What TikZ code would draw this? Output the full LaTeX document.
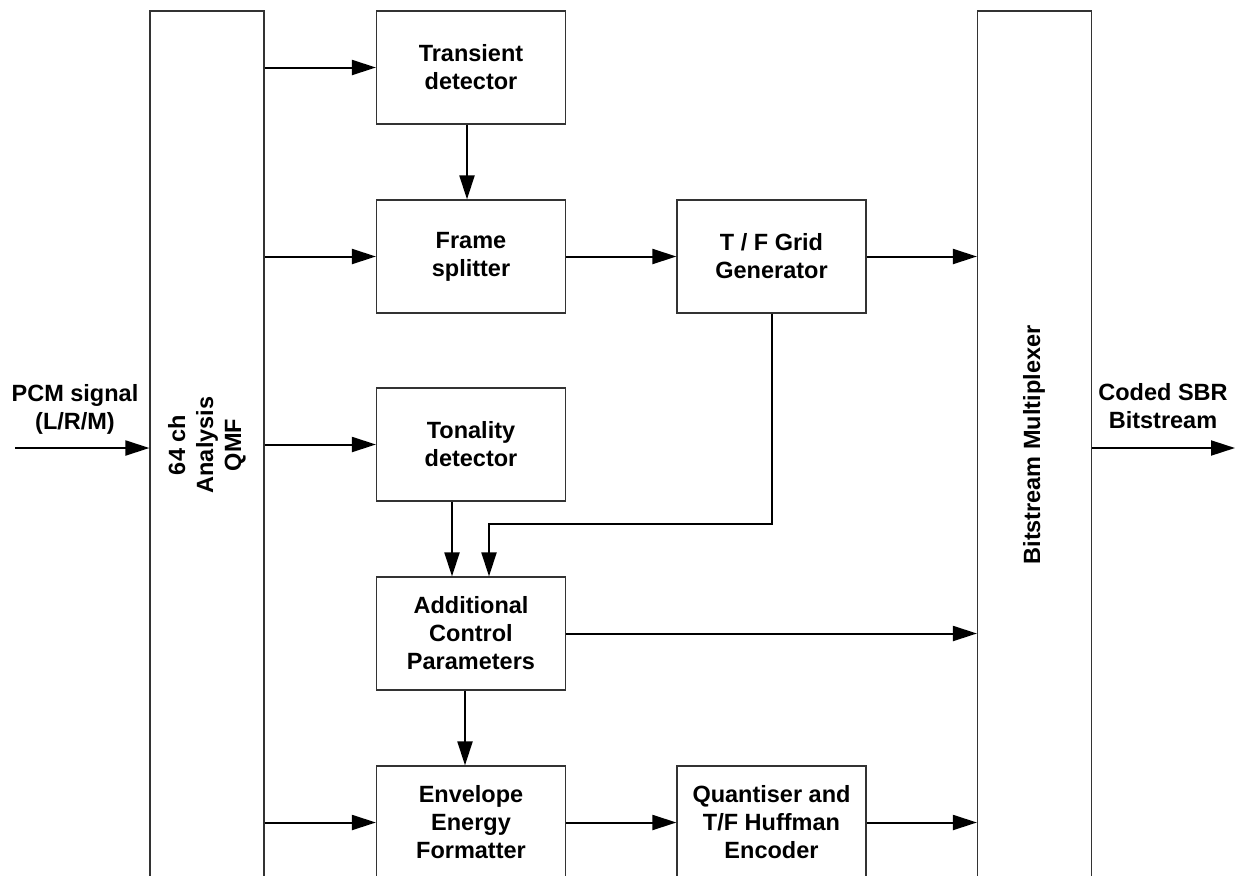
\documentclass[tikz,border=0pt]{standalone}
\usepackage{fontspec}
\setmainfont{Liberation Sans}
\usetikzlibrary{arrows.meta}
\begin{document}
\begin{tikzpicture}[x=1pt,y=-1pt,
  txt/.style={font=\fontsize{23.5}{28}\selectfont\bfseries},
  blk/.style={txt, draw=black!80, line width=1.2pt, minimum width=189pt, minimum height=113pt, inner sep=0pt, align=center},
  tall/.style={draw=black!80, line width=1.2pt, minimum width=114pt, minimum height=868pt, inner sep=0pt},
  lbl/.style={txt, align=center, inner sep=0pt},
  arr/.style={line width=2pt, line join=miter, -{Triangle[length=24pt,width=15pt]}}]
\useasboundingbox (0,0) rectangle (1235,876);
\fill[white] (0,0) rectangle (1235,876);
\clip (0,0) rectangle (1235,876);

% tall blocks
\node[tall] (qmf) at (207,445) {};
\node[lbl, rotate=90] (qmft) at (207,445) {64 ch\\Analysis\\QMF};
\node[tall] (mux) at (1034.5,445) {};
\node[lbl, rotate=90] (muxt) at (1034,445) {Bitstream Multiplexer};

% blocks
\node[blk] (trans) at (471,67.5) {Transient\\detector};
\node[blk] (frame) at (471,256.5) {Frame\\splitter};
\node[blk] (tf) at (771.5,256.5) {T / F Grid\\Generator};
\node[blk] (ton) at (471,444.5) {Tonality\\detector};
\node[blk] (acp) at (471,633.5) {Additional\\Control\\Parameters};
\node[blk] (env) at (471,822.5) {Envelope\\Energy\\Formatter};
\node[blk] (quant) at (771.5,822.5) {Quantiser and\\T/F Huffman\\Encoder};

% external labels
\node[lbl] (pcm) at (75,409) {PCM signal\\(L/R/M)};
\node[lbl] (sbr) at (1163,406) {Coded SBR\\Bitstream};
\coordinate (in) at (15,448);
\coordinate (out) at (1235,448);

% connectors
\draw[arr] (in) -- (qmf.west |- in);
\draw[arr] (mux.east |- out) -- (out);
\draw[arr] (qmf.east |- trans.west) -- (trans.west);
\draw[arr] (qmf.east |- frame.west) -- (frame.west);
\draw[arr] (qmf.east |- ton.west) -- (ton.west);
\draw[arr] (qmf.east |- env.west) -- (env.west);
\draw[arr] ([xshift=-4pt]trans.south) -- ([xshift=-4pt]frame.north);
\draw[arr] (frame.east) -- (tf.west);
\draw[arr] (tf.east) -- (mux.west |- tf.east);
\draw[arr] ([xshift=-19pt]ton.south) -- ([xshift=-19pt]acp.north);
\coordinate (j1) at (771.5,524);
\coordinate (j2) at (489,524);
\draw[arr] (tf.south) -- (j1) -- (j2) -- (acp.north -| j2);
\draw[arr] (acp.east) -- (mux.west |- acp.east);
\draw[arr] ([xshift=-6pt]acp.south) -- ([xshift=-6pt]env.north);
\draw[arr] (env.east) -- (quant.west);
\draw[arr] (quant.east) -- (mux.west |- quant.east);
\end{tikzpicture}
\end{document}
